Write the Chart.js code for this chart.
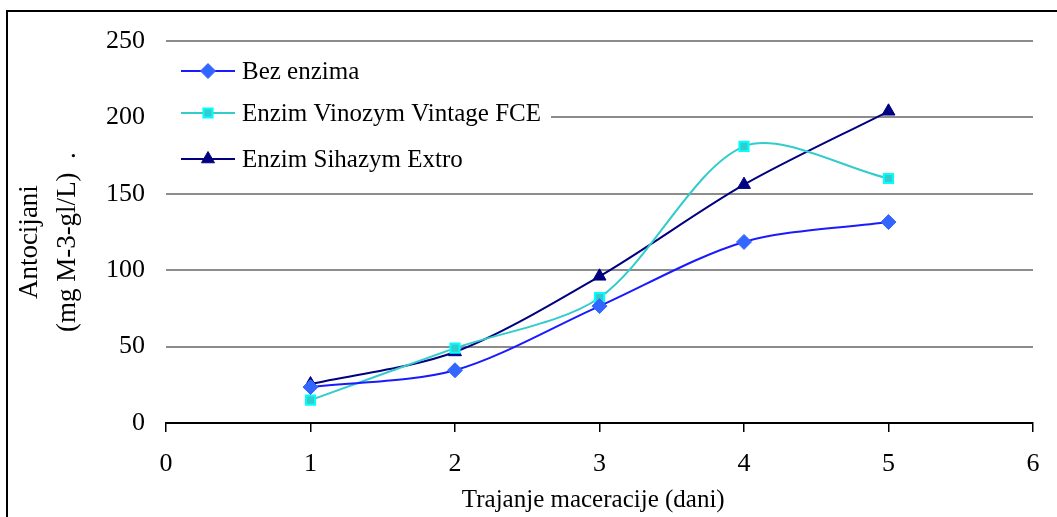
<!DOCTYPE html>
<html>
<head>
<meta charset="utf-8">
<script src="https://cdn.jsdelivr.net/npm/chart.js@4/dist/chart.umd.min.js"></script>
<style>
  body { margin: 0; background: #fff; }
  #wrap { position: relative; width: 1057px; height: 517px; overflow: hidden; }
  #frame { position: absolute; left: 6px; top: 10px; width: 1100px; height: 600px; border: 2px solid #000; box-sizing: border-box; }
  canvas { position: absolute; left: 0; top: 0; }
</style>
</head>
<body>
<div id="wrap">
  <div id="frame"></div>
  <canvas id="chart" width="1057" height="517"></canvas>
</div>
<script>
// days of maceration
const days = [1, 2, 3, 4, 5];
// anthocyanins, mg M-3-gl/L
const bezEnzima = [23.5, 34.5, 76.5, 118.5, 131.5];
const vinozym = [15, 49, 82, 181, 160];
const sihazym = [25.5, 46.5, 96, 156, 204];
const seriesNames = ['Bez enzima', 'Enzim Vinozym Vintage FCE', 'Enzim Sihazym Extro'];

const font = 'Liberation Serif, Times New Roman, serif';

const toPoints = vals => vals.map((v, i) => ({ x: days[i], y: v }));

// legend sits inside the plot with a white box over the grid
const innerLegend = {
  id: 'innerLegend',
  beforeDatasetsDraw(chart) {
    const ctx = chart.ctx;
    ctx.save();
    ctx.fillStyle = '#fff';
    ctx.fillRect(160, 50, 391, 135);
    const rows = [71, 113, 159];
    chart.data.datasets.forEach((ds, i) => {
      const y = rows[i];
      ctx.strokeStyle = ds.borderColor;
      ctx.lineWidth = 2;
      ctx.beginPath();
      ctx.moveTo(181, y);
      ctx.lineTo(235, y);
      ctx.stroke();
      ctx.fillStyle = ds.pointBackgroundColor;
      ctx.strokeStyle = ds.pointBorderColor;
      ctx.lineWidth = ds.pointBorderWidth;
      Chart.helpers.drawPoint(ctx, {
        pointStyle: ds.pointStyle, radius: ds.pointRadius, rotation: 0, borderWidth: ds.pointBorderWidth
      }, 208, y);
      ctx.fillStyle = '#000';
      ctx.font = '25px ' + font;
      ctx.textBaseline = 'middle';
      ctx.fillText(ds.label, 242, y + 1);
    });
    ctx.restore();
  }
};

new Chart(document.getElementById('chart'), {
  type: 'line',
  data: {
    datasets: [{
      label: seriesNames[0],
      data: toPoints(bezEnzima),
      borderColor: '#1a1aff',
      borderWidth: 2,
      pointStyle: 'rectRot',
      pointRadius: 7.5,
      pointBackgroundColor: '#3366ff',
      pointBorderColor: '#3366ff',
      pointBorderWidth: 1,
      tension: 0.3
    }, {
      label: seriesNames[1],
      data: toPoints(vinozym),
      borderColor: '#33cccc',
      borderWidth: 2,
      pointStyle: 'rect',
      pointRadius: 6.5,
      pointBackgroundColor: '#33cccc',
      pointBorderColor: '#00ffff',
      pointBorderWidth: 2,
      tension: 0.3
    }, {
      label: seriesNames[2],
      data: toPoints(sihazym),
      borderColor: '#000080',
      borderWidth: 2,
      pointStyle: 'triangle',
      pointRadius: 7.5,
      pointBackgroundColor: '#000080',
      pointBorderColor: '#000080',
      pointBorderWidth: 1,
      tension: 0.3
    }]
  },
  options: {
    responsive: false,
    animation: false,
    layout: { padding: { left: 0, top: 41, right: 24, bottom: 0 } },
    plugins: { legend: { display: false }, tooltip: { enabled: false } },
    scales: {
      x: {
        type: 'linear',
        min: 0, max: 6,
        ticks: { stepSize: 1, color: '#000', font: { family: font, size: 26 }, padding: 17 },
        grid: { drawOnChartArea: false, color: '#000', tickLength: 9, lineWidth: 1.5 },
        border: { color: '#000', width: 2 },
        title: { display: true, text: 'Trajanje maceracije (dani)  ', color: '#000', font: { family: font, size: 25 }, padding: { top: 0, bottom: 2 } },
        afterFit(scale) { scale.height = 94; }
      },
      y: {
        min: 0, max: 250,
        ticks: { stepSize: 50, color: '#000', font: { family: font, size: 26 }, padding: 21 },
        grid: { color: '#8c8c8c', lineWidth: 2, drawTicks: false },
        border: { display: false },
        title: { display: true, text: ['Antocijani   ', '(mg M-3-gl/L)  .   '], color: '#000', font: { family: font, size: 27, lineHeight: 1.4 }, padding: { top: 11 } },
        afterFit(scale) { scale.width = 166; }
      }
    }
  },
  plugins: [innerLegend]
});
</script>
</body>
</html>
